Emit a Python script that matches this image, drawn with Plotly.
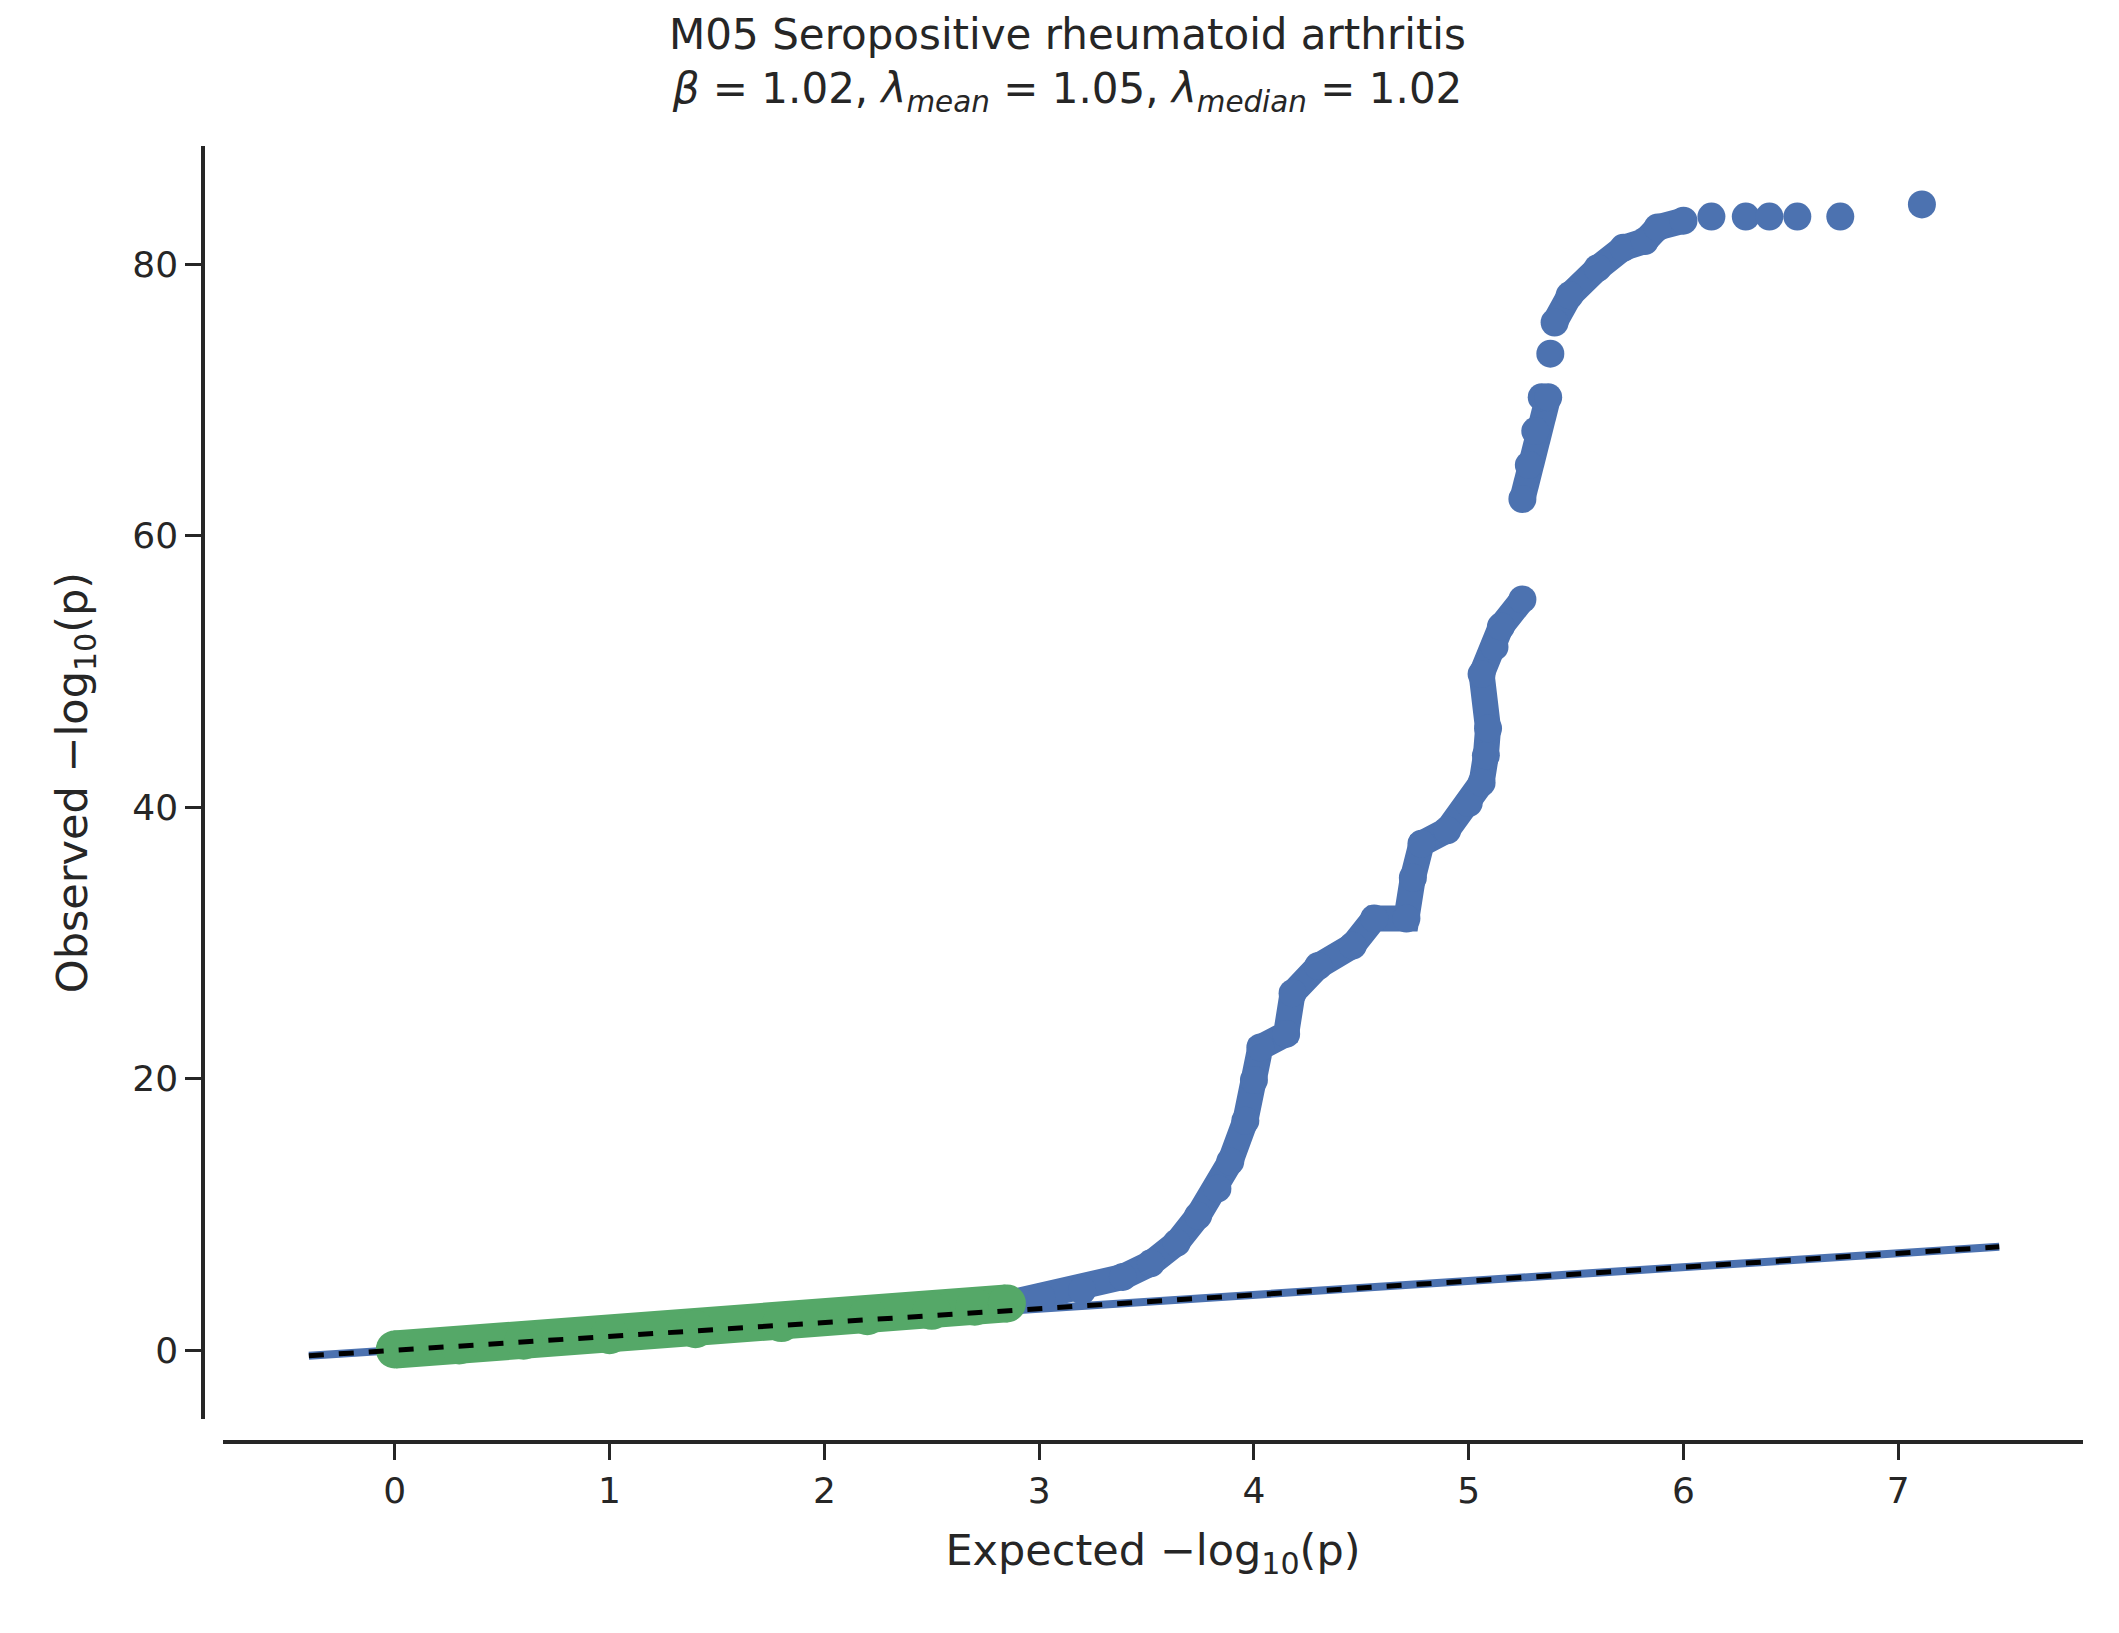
import plotly.graph_objects as go

# values
green_x = [0.0, 0.3, 0.6, 1.0, 1.4, 1.8, 2.2, 2.5, 2.7, 2.85]
green_y = [0.05, 0.35, 0.7, 1.1, 1.55, 2.0, 2.5, 2.9, 3.2, 3.45]

blue_x = [2.85, 3.01, 3.2, 3.39, 3.52, 3.64, 3.74, 3.83, 3.89, 3.96, 4.0, 4.03, 4.15, 4.18, 4.3,
          4.46, 4.56, 4.71, 4.74, 4.78, 4.9, 5.0, 5.06, 5.08, 5.09, 5.06, 5.12, 5.15, 5.25,
          None, 5.25, 5.28, 5.31, 5.34, 5.37, None, 5.38, None, 5.4, 5.47, 5.6, 5.72, 5.82, 5.88, 6.0]
blue_y = [3.45, 3.9, 4.4, 5.4, 6.4, 7.9, 9.9, 11.9, 13.9, 16.9, 19.9, 22.3, 23.3, 26.3, 28.3,
          29.8, 31.8, 31.8, 34.8, 37.3, 38.3, 40.3, 41.8, 43.8, 45.8, 49.8, 51.8, 53.3, 55.3,
          None, 62.7, 65.2, 67.7, 70.2, 70.2, None, 73.4, None, 75.7, 77.7, 79.7, 81.2, 81.7, 82.7, 83.2]

top_x = [6.13, 6.29, 6.4, 6.53, 6.73, 7.11]
top_y = [83.5, 83.5, 83.5, 83.5, 83.5, 84.4]

ref_x = [-0.4, 7.47]
ref_y = [-0.41, 7.62]

BLUE = "#4c72b0"
GREEN = "#55a868"
INK = "#262626"

fig = go.Figure()
fig.add_trace(go.Scatter(x=ref_x, y=ref_y, mode="lines", line=dict(color=BLUE, width=8)))
fig.add_trace(go.Scatter(x=blue_x, y=blue_y, mode="lines+markers", connectgaps=False,
                         line=dict(color=BLUE, width=26), marker=dict(color=BLUE, size=28)))
fig.add_trace(go.Scatter(x=top_x, y=top_y, mode="markers", marker=dict(color=BLUE, size=28)))
fig.add_trace(go.Scatter(x=green_x, y=green_y, mode="lines+markers",
                         line=dict(color=GREEN, width=38), marker=dict(color=GREEN, size=38)))
fig.add_trace(go.Scatter(x=ref_x, y=ref_y, mode="lines",
                         line=dict(color="black", width=5, dash="dash")))

fig.update_layout(
    width=2119, height=1633,
    plot_bgcolor="white", paper_bgcolor="white",
    showlegend=False,
    font=dict(family="DejaVu Sans", size=36, color=INK),
    margin=dict(l=195, r=44, t=138, b=199),
    title=dict(
        text="M05 Seropositive rheumatoid arthritis<br><i>β</i> = 1.02, <i>λ<sub>mean</sub></i> = 1.05, <i>λ<sub>median</sub></i> = 1.02",
        x=0.5, xanchor="center", y=0.975, yanchor="top", font=dict(size=42, color=INK)),
    xaxis=dict(domain=[0.0106, 1], range=[-0.8, 7.86], anchor="free", position=0,
               showline=True, linecolor=INK, linewidth=3.5, ticks="outside", ticklen=16,
               tickwidth=3, tickcolor=INK, tickvals=[0, 1, 2, 3, 4, 5, 6, 7],
               showgrid=False, zeroline=False,
               title=dict(text="Expected −log<sub>10</sub>(p)", standoff=24)),
    yaxis=dict(domain=[0.0177, 1], range=[-5.07, 88.7], anchor="free", position=0,
               showline=True, linecolor=INK, linewidth=3.5, ticks="outside", ticklen=16,
               tickwidth=3, tickcolor=INK, tickvals=[0, 20, 40, 60, 80],
               showgrid=False, zeroline=False,
               title=dict(text="Observed −log<sub>10</sub>(p)", standoff=30)),
)

fig.write_html("out.html")
